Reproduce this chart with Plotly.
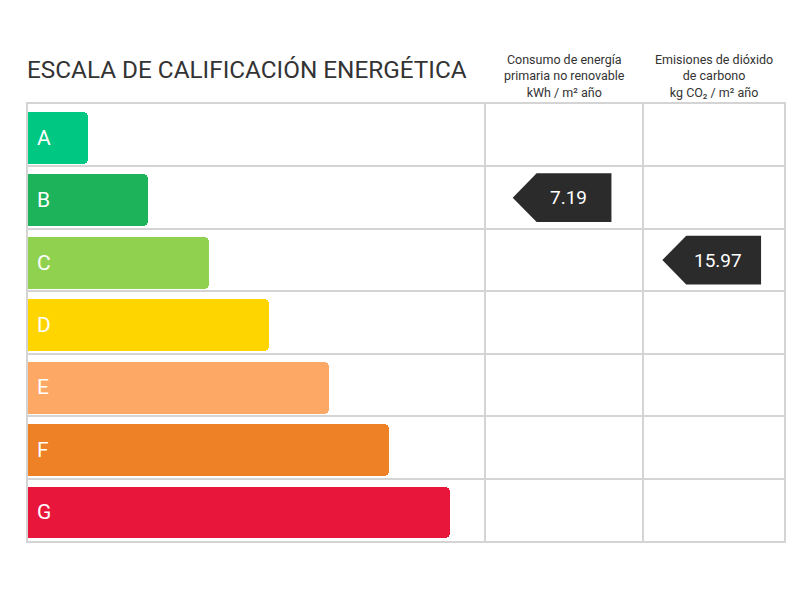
import plotly.graph_objects as go

# energy rating scale
ratings = ["A", "B", "C", "D", "E", "F", "G"]
scale_steps = [1, 2, 3, 4, 5, 6, 7]
bar_colors = ["#00c781", "#1cb35a", "#90d14f", "#ffd500", "#fea865", "#ee8026", "#e9163c"]

# indicator columns
column_titles = [
    "Consumo de energía<br>primaria no renovable<br>kWh / m² año",
    "Emisiones de dióxido<br>de carbono<br>kg CO₂ / m² año",
]
indicator_values = [7.19, 15.97]
indicator_ratings = ["B", "C"]

title_text = "ESCALA DE CALIFICACIÓN ENERGÉTICA"

# layout (x in units of one rating step, ~60.4 px)
px = 1 / 60.4
col_bounds = [7.583, 10.215, 12.55]   # left edge of col 1, col 2, right frame
grid_col = "#d4d4d4"
dark = "#2b2b2b"
font_family = "Roboto, 'Noto Sans', sans-serif"

fig = go.Figure()

rows = list(range(len(ratings)))

fig.add_trace(go.Bar(
    x=scale_steps,
    y=rows,
    orientation="h",
    width=0.83,
    offset=-0.372,
    marker=dict(color=bar_colors, cornerradius=5, line=dict(width=0)),
    hoverinfo="skip",
    showlegend=False,
))

annotations = []
for i, r in enumerate(ratings):
    annotations.append(dict(
        x=7 * px, y=i + 0.04, xref="x", yref="y", text=r, showarrow=False,
        xanchor="left", yanchor="middle",
        font=dict(family=font_family, size=21, color="white"),
    ))

# value indicator arrows
for k, (val, rat) in enumerate(zip(indicator_values, indicator_ratings)):
    row = ratings.index(rat)
    cx = (col_bounds[k] + col_bounds[k + 1]) / 2 - 2 * px
    half_w = 49.5 * px
    tip = 24 * px
    h = 0.39
    x_left = cx - half_w
    x_right = cx + half_w
    xs = [x_left, x_left + tip, x_right, x_right, x_left + tip, x_left]
    ys = [row, row - h, row - h, row + h, row + h, row]
    fig.add_trace(go.Scatter(
        x=xs, y=ys, mode="lines", fill="toself", fillcolor=dark,
        line=dict(color=dark, width=0), hoverinfo="skip", showlegend=False,
    ))
    annotations.append(dict(
        x=cx + 6 * px, y=row, xref="x", yref="y", text=f"{val:.2f}",
        showarrow=False, xanchor="center", yanchor="middle",
        font=dict(family=font_family, size=19, color="white"),
    ))

# column headers
for k, t in enumerate(column_titles):
    annotations.append(dict(
        x=(col_bounds[k] + col_bounds[k + 1]) / 2, y=1, xref="x", yref="paper",
        text=t, showarrow=False, xanchor="center", yanchor="bottom", yshift=2,
        align="center",
        font=dict(family=font_family, size=12.5, color="#333333"),
    ))

annotations.append(dict(
    x=0, y=1, xref="paper", yref="paper", text=title_text, showarrow=False,
    xanchor="left", yanchor="middle", yshift=35, xshift=-3,
    font=dict(family=font_family, size=24.3, color="#333333"),
))

fig.update_layout(
    width=800, height=600,
    margin=dict(l=20, r=24, t=96, b=67),
    paper_bgcolor="white", plot_bgcolor="white",
    annotations=annotations,
    xaxis=dict(
        range=[0, col_bounds[-1]], tickvals=col_bounds[:2],
        showgrid=True, gridcolor=grid_col, gridwidth=2,
        showticklabels=False, ticks="", zeroline=False,
        showline=True, mirror=True, linecolor=grid_col, linewidth=2,
        fixedrange=True,
    ),
    yaxis=dict(
        range=[len(ratings) - 0.5, -0.5], tickvals=[i + 0.5 for i in rows[:-1]],
        showgrid=True, gridcolor=grid_col, gridwidth=2,
        showticklabels=False, ticks="", zeroline=False,
        showline=True, mirror=True, linecolor=grid_col, linewidth=2,
        fixedrange=True,
    ),
    bargap=0,
)

fig.write_html("out.html")
